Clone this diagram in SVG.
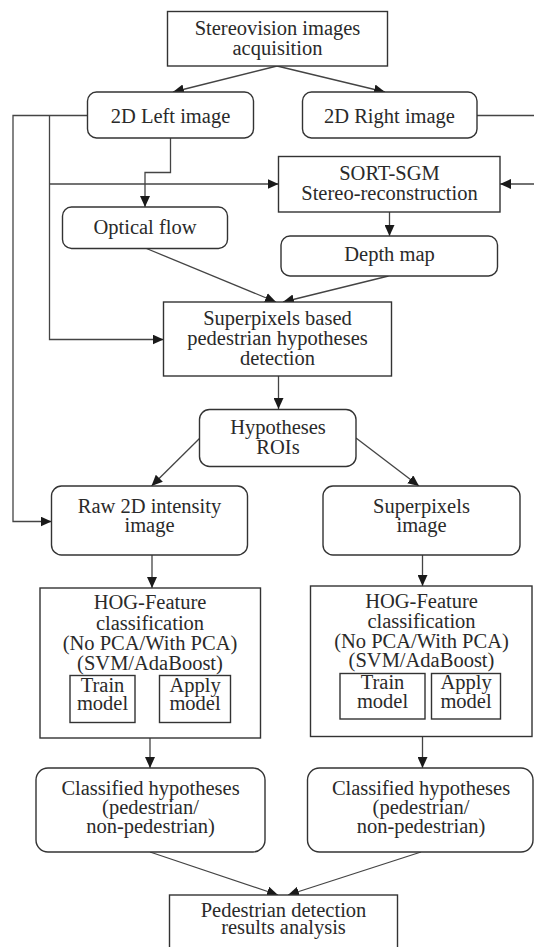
<svg xmlns="http://www.w3.org/2000/svg" width="534" height="947" viewBox="0 0 534 947">
<style>
.box{fill:#fff;stroke:#333;stroke-width:1.4}
.ln{fill:none;stroke:#444;stroke-width:1.3}
.t text{text-anchor:middle;fill:#2a2a2a}
</style>
<defs>
<marker id="ah" markerUnits="userSpaceOnUse" markerWidth="12" markerHeight="10" refX="11" refY="5" orient="auto">
<path d="M0,0 L11,5 L0,10 Z" fill="#1a1a1a"/>
</marker>
</defs>
<rect width="534" height="947" fill="#fff"/>
<g id="connectors">
<line class="ln" x1="277" y1="66" x2="173" y2="92" marker-end="url(#ah)"/>
<line class="ln" x1="277" y1="66" x2="385" y2="92" marker-end="url(#ah)"/>
<polyline class="ln" points="87.5,115.5 13,115.5 13,521.5 51.5,521.5" marker-end="url(#ah)"/>
<polyline class="ln" points="49.5,115.5 49.5,339.5 163.5,339.5" marker-end="url(#ah)"/>
<line class="ln" x1="49.5" y1="184" x2="278.5" y2="184" marker-end="url(#ah)"/>
<polyline class="ln" points="170.5,138 170.5,172.5 145,172.5 145,207" marker-end="url(#ah)"/>
<polyline class="ln" points="477,115.5 535,115.5 535,184 500,184" marker-end="url(#ah)"/>
<line class="ln" x1="389.5" y1="212" x2="389.5" y2="236" marker-end="url(#ah)"/>
<line class="ln" x1="146.5" y1="248.5" x2="276" y2="302" marker-end="url(#ah)"/>
<line class="ln" x1="388.5" y1="276" x2="283" y2="302" marker-end="url(#ah)"/>
<line class="ln" x1="278.5" y1="376" x2="278.5" y2="409" marker-end="url(#ah)"/>
<line class="ln" x1="200" y1="438" x2="151.5" y2="486" marker-end="url(#ah)"/>
<line class="ln" x1="356" y1="438" x2="419" y2="486" marker-end="url(#ah)"/>
<line class="ln" x1="152" y1="555" x2="152" y2="588" marker-end="url(#ah)"/>
<line class="ln" x1="422.5" y1="555" x2="422.5" y2="586" marker-end="url(#ah)"/>
<line class="ln" x1="150" y1="738" x2="150" y2="768" marker-end="url(#ah)"/>
<line class="ln" x1="422.5" y1="737" x2="422.5" y2="768" marker-end="url(#ah)"/>
<line class="ln" x1="150" y1="852" x2="278" y2="895" marker-end="url(#ah)"/>
<line class="ln" x1="421" y1="852" x2="288" y2="895" marker-end="url(#ah)"/>
</g>
<g class="t" font-family="'Liberation Serif', 'Times New Roman', serif" font-size="20.5">
<g id="acq">
<rect class="box" x="167.5" y="11.5" width="220" height="54.5"/>
<text x="277.5" y="35">Stereovision images</text>
<text x="277.5" y="54.5">acquisition</text>
</g>
<g id="left">
<rect class="box" x="87.5" y="92" width="166" height="46" rx="9"/>
<text x="170.5" y="123">2D Left image</text>
</g>
<g id="right">
<rect class="box" x="302.5" y="92" width="174.5" height="46" rx="9"/>
<text x="389.5" y="123">2D Right image</text>
</g>
<g id="sort">
<rect class="box" x="278.5" y="156.5" width="221.5" height="55.5"/>
<text x="389.5" y="180">SORT-SGM</text>
<text x="389.5" y="200">Stereo-reconstruction</text>
</g>
<g id="optical">
<rect class="box" x="62.5" y="207" width="165" height="41.5" rx="9"/>
<text x="145" y="233.5">Optical flow</text>
</g>
<g id="depth">
<rect class="box" x="281" y="236" width="216.5" height="40" rx="9"/>
<text x="389.5" y="261">Depth map</text>
</g>
<g id="superdet">
<rect class="box" x="163.5" y="302" width="228" height="74"/>
<text x="277.5" y="325">Superpixels based</text>
<text x="277.5" y="345">pedestrian hypotheses</text>
<text x="277.5" y="365">detection</text>
</g>
<g id="hyp">
<rect class="box" x="199.5" y="409.5" width="156.5" height="57" rx="10"/>
<text x="278" y="433.5">Hypotheses</text>
<text x="278" y="454">ROIs</text>
</g>
<g id="raw">
<rect class="box" x="51.5" y="486" width="196" height="69" rx="10"/>
<text x="149.5" y="513">Raw 2D intensity</text>
<text x="149.5" y="532">image</text>
</g>
<g id="spimg">
<rect class="box" x="323" y="486" width="197" height="69" rx="10"/>
<text x="421.5" y="513">Superpixels</text>
<text x="421.5" y="532">image</text>
</g>
<g id="hogl">
<rect class="box" x="40" y="588" width="220.5" height="150"/>
<text x="150" y="609">HOG-Feature</text>
<text x="150" y="629.5">classification</text>
<text x="150" y="650">(No PCA/With PCA)</text>
<text x="150" y="669.5">(SVM/AdaBoost)</text>
<rect class="box" x="70" y="675.5" width="65" height="47"/>
<text x="102.5" y="691.5">Train</text>
<text x="102.5" y="710">model</text>
<rect class="box" x="159.5" y="675.5" width="71" height="47"/>
<text x="195" y="691.5">Apply</text>
<text x="195" y="710">model</text>
</g>
<g id="hogr">
<rect class="box" x="310.5" y="586" width="221.5" height="150.5"/>
<text x="421.5" y="607.5">HOG-Feature</text>
<text x="421.5" y="627.5">classification</text>
<text x="421.5" y="647.5">(No PCA/With PCA)</text>
<text x="421.5" y="667">(SVM/AdaBoost)</text>
<rect class="box" x="340" y="673.5" width="85" height="45.5"/>
<text x="382.5" y="688.5">Train</text>
<text x="382.5" y="707.5">model</text>
<rect class="box" x="431.5" y="673.5" width="69" height="45.5"/>
<text x="466" y="688.5">Apply</text>
<text x="466" y="707.5">model</text>
</g>
<g id="classl">
<rect class="box" x="36" y="768" width="229" height="84" rx="12"/>
<text x="150.5" y="795">Classified hypotheses</text>
<text x="150.5" y="813.5">(pedestrian/</text>
<text x="150.5" y="833">non-pedestrian)</text>
</g>
<g id="classr">
<rect class="box" x="307.5" y="768" width="225.5" height="84" rx="12"/>
<text x="421" y="795">Classified hypotheses</text>
<text x="421" y="813.5">(pedestrian/</text>
<text x="421" y="833">non-pedestrian)</text>
</g>
<g id="result">
<rect class="box" x="169.5" y="895" width="228" height="60"/>
<text x="283.5" y="916.5">Pedestrian detection</text>
<text x="283.5" y="934">results analysis</text>
</g>
</g>
</svg>
